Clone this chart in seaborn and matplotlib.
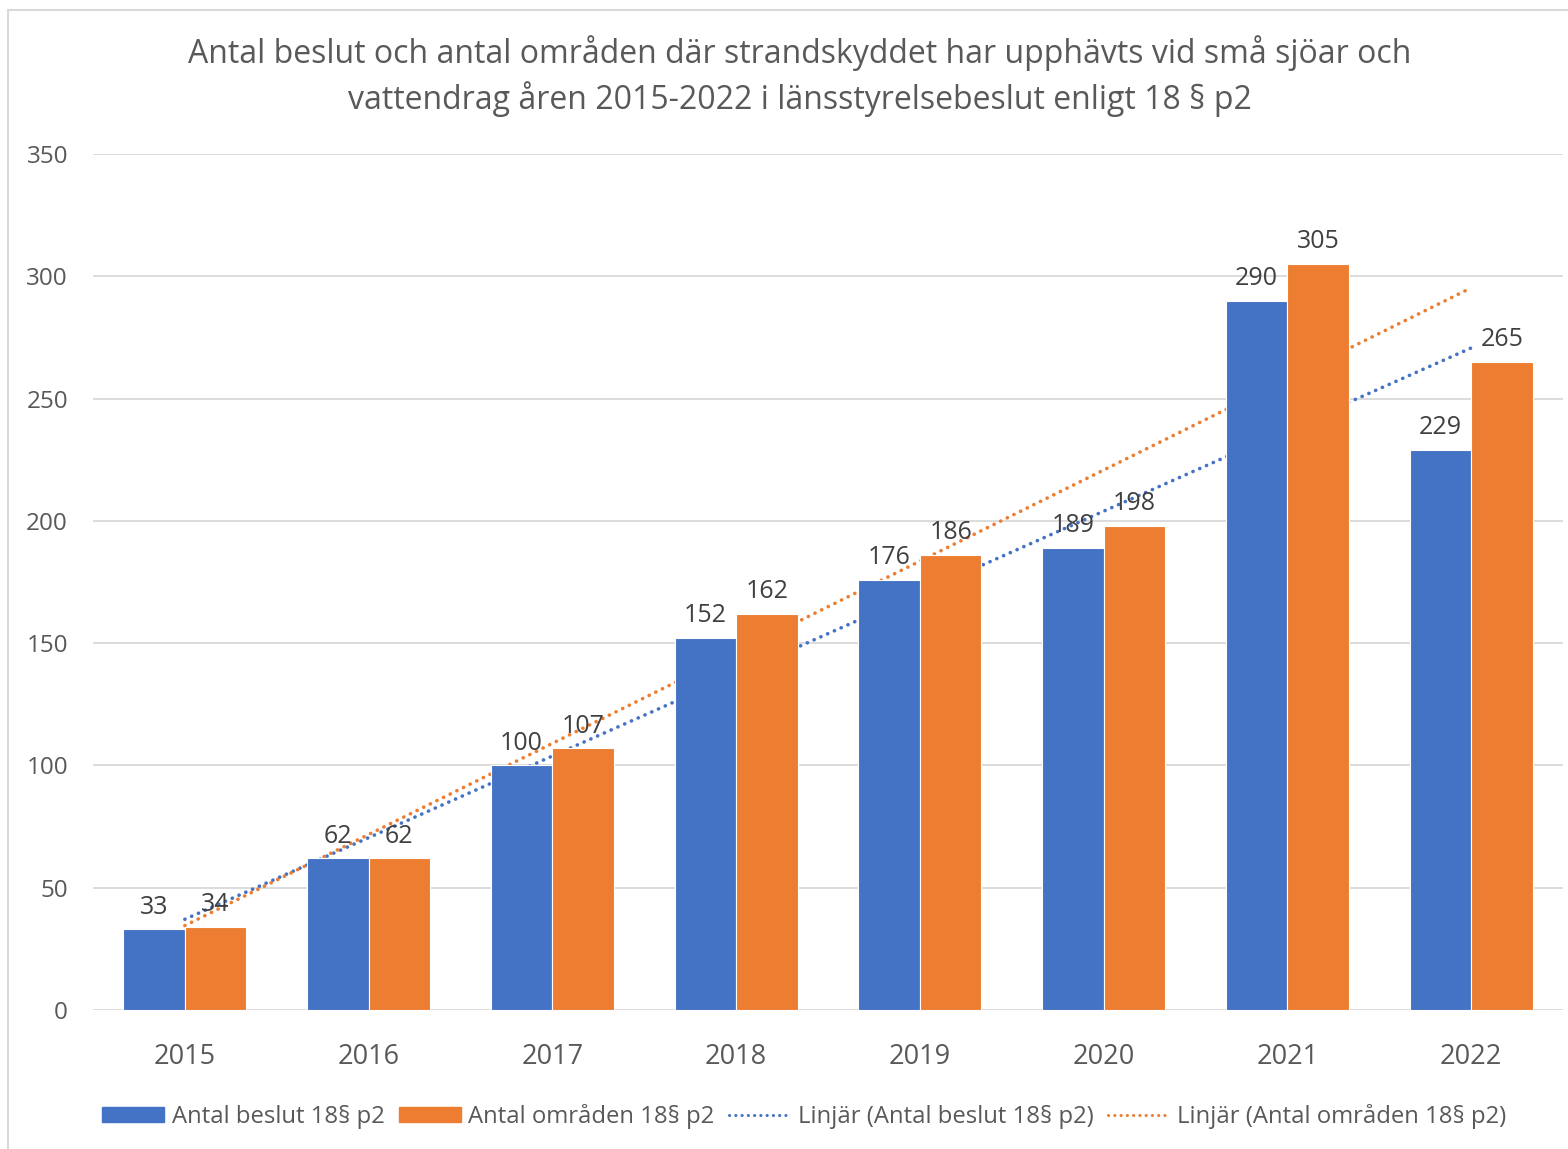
import numpy as np
import pandas as pd
import matplotlib
matplotlib.use('Agg')
import matplotlib.pyplot as plt
import seaborn as sns
from matplotlib.lines import Line2D
from matplotlib.patches import Patch

years = ['2015', '2016', '2017', '2018', '2019', '2020', '2021', '2022']
beslut = [33, 62, 100, 152, 176, 189, 290, 229]
omraden = [34, 62, 107, 162, 186, 198, 305, 265]
series_names = ['Antal beslut 18§ p2', 'Antal områden 18§ p2']
trend_names = ['Linjär (Antal beslut 18§ p2)', 'Linjär (Antal områden 18§ p2)']
colors = ['#4472C4', '#ED7D31']
text_color = '#595959'

sns.set_theme(style='white')
plt.rcParams['font.family'] = ['Open Sans', 'DejaVu Sans']

df = pd.DataFrame({
    'year': years * 2,
    'value': beslut + omraden,
    'serie': [series_names[0]] * len(years) + [series_names[1]] * len(years),
})

fig = plt.figure(figsize=(15.68, 11.49), dpi=100)
ax = fig.add_axes([0.0593, 0.121, 0.9375, 0.745])

sns.barplot(data=df, x='year', y='value', hue='serie', palette=colors,
            width=0.67, gap=0, edgecolor='white', linewidth=0.8,
            saturation=1, legend=False, ax=ax, zorder=1)

# linear trendlines like Excel, drawn behind the bars
xs = np.arange(len(years))
dots = (0, (0.05, 2.0))
for vals, c in zip([beslut, omraden], colors):
    k, m = np.polyfit(xs, vals, 1)
    ax.plot(xs, k * xs + m, color=c, lw=2.6, linestyle=dots,
            dash_capstyle='round', zorder=0.8)

# data labels
for cont in ax.containers:
    ax.bar_label(cont, fmt='%d', padding=7, fontsize=18, color='#404040')

ax.set_ylim(0, 350)
ax.set_xlim(-0.5, 7.5)
ax.set_yticks(range(0, 351, 50))
ax.yaxis.grid(True, color='#D9D9D9', lw=1.3)
ax.set_axisbelow(True)
for s in ax.spines.values():
    s.set_visible(False)
ax.set_xlabel('')
ax.set_ylabel('')
ax.tick_params(axis='y', labelsize=17.5, labelcolor=text_color, pad=18, length=0)
ax.tick_params(axis='x', labelsize=19.5, labelcolor=text_color, pad=24, length=0)

fig.text(0.51, 0.954, 'Antal beslut och antal områden där strandskyddet har upphävts vid små sjöar och',
         ha='center', va='center', fontsize=23, color=text_color)
fig.text(0.51, 0.914, 'vattendrag åren 2015-2022 i länsstyrelsebeslut enligt 18 § p2',
         ha='center', va='center', fontsize=23, color=text_color)

handles = [Patch(color=colors[0]), Patch(color=colors[1]),
           Line2D([], [], color=colors[0], lw=2.2, linestyle=dots, dash_capstyle='round'),
           Line2D([], [], color=colors[1], lw=2.2, linestyle=dots, dash_capstyle='round')]
fig.legend(handles, series_names + trend_names, loc='center', bbox_to_anchor=(0.513, 0.028),
           ncol=4, frameon=False, fontsize=17.2, labelcolor=text_color,
           handlelength=2.6, handleheight=0.6, handletextpad=0.3, columnspacing=0.6)

# outer chart border (cut off at right and bottom)
fig.add_artist(Line2D([0.005, 0.005], [0, 0.991], color='#D9D9D9', lw=1.5))
fig.add_artist(Line2D([0.005, 1], [0.991, 0.991], color='#D9D9D9', lw=1.5))

fig.savefig('out.png', dpi=100)
